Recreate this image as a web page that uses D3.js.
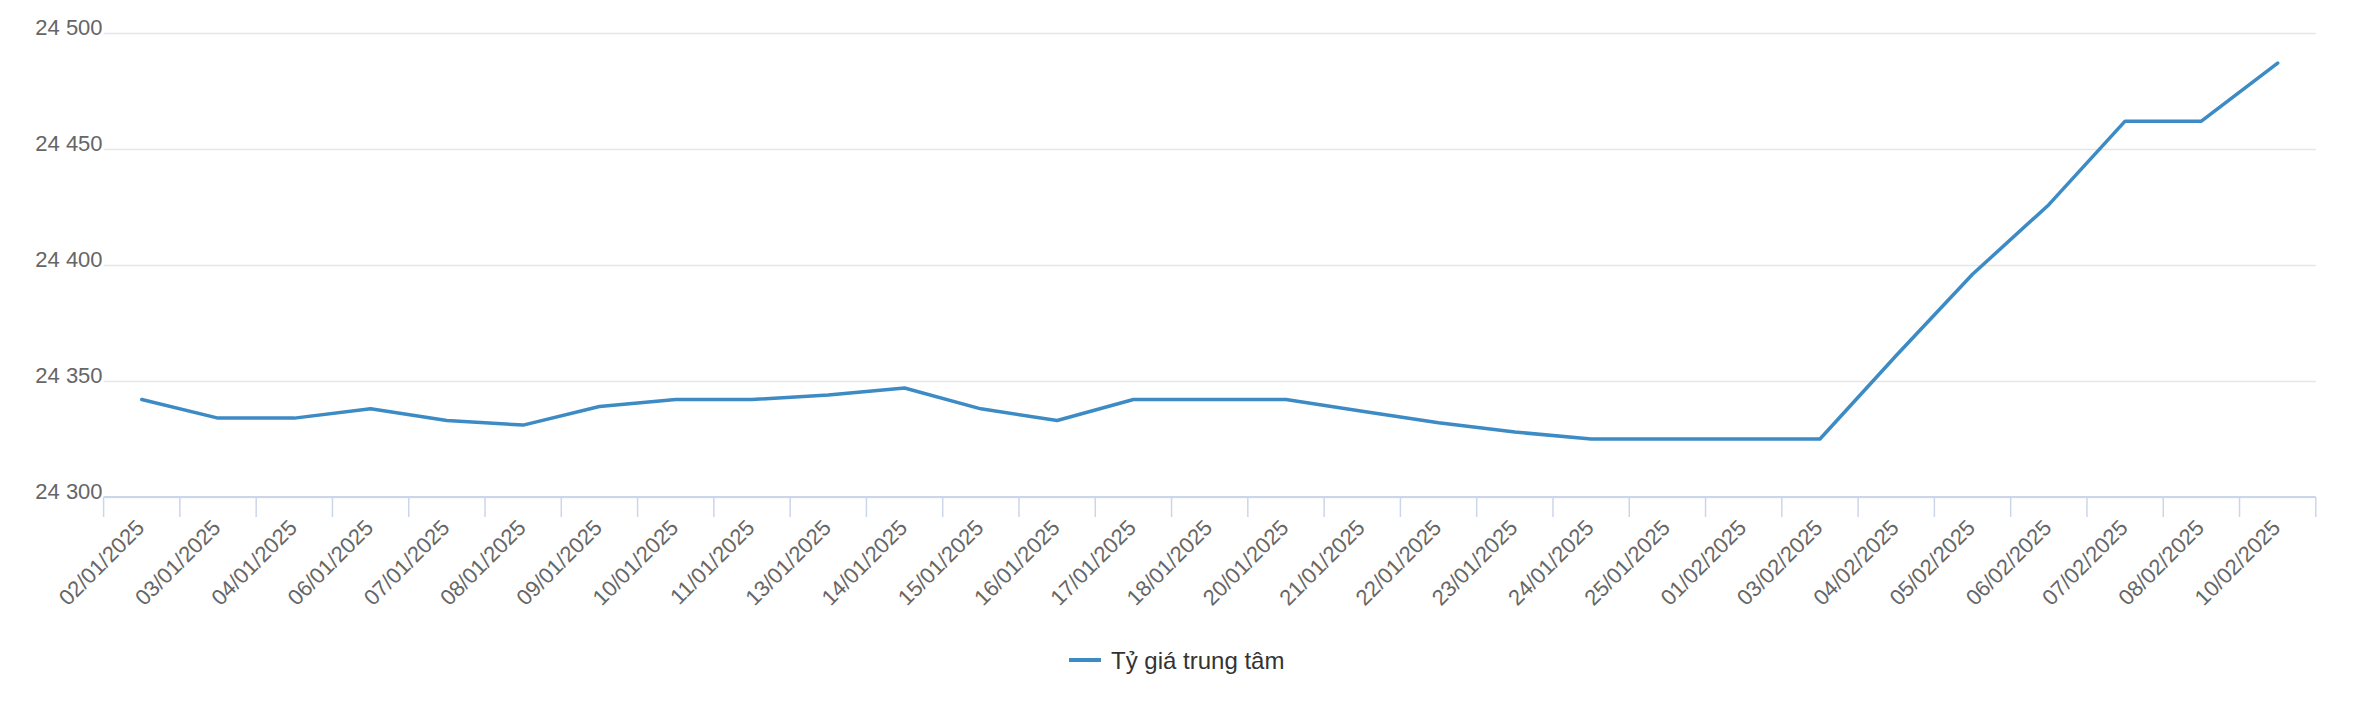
<!DOCTYPE html>
<html>
<head>
<meta charset="utf-8">
<script src="https://cdn.jsdelivr.net/npm/d3@7/dist/d3.min.js"></script>
<style>
  html, body { margin: 0; padding: 0; background: #ffffff; }
  svg { display: block; font-family: "Liberation Sans", Arial, Helvetica, sans-serif; }
</style>
</head>
<body>
<svg id="chart" width="2370" height="702"></svg>
<script>
const categories = ["02/01/2025","03/01/2025","04/01/2025","06/01/2025","07/01/2025","08/01/2025","09/01/2025","10/01/2025","11/01/2025","13/01/2025","14/01/2025","15/01/2025","16/01/2025","17/01/2025","18/01/2025","20/01/2025","21/01/2025","22/01/2025","23/01/2025","24/01/2025","25/01/2025","01/02/2025","03/02/2025","04/02/2025","05/02/2025","06/02/2025","07/02/2025","08/02/2025","10/02/2025"];
const rates = [24342,24334,24334,24338,24333,24331,24339,24342,24342,24344,24347,24338,24333,24342,24342,24342,24337,24332,24328,24325,24325,24325,24325,24361,24396,24426,24462,24462,24487];
const yTicks = [24300, 24350, 24400, 24450, 24500];
const seriesName = "Tỷ giá trung tâm";

const svg = d3.select("#chart");
const plot = { left: 103.6, right: 2315.8, top: 33, bottom: 497 };

const x = d3.scaleBand().domain(categories).range([plot.left, plot.right]).padding(0);
const y = d3.scaleLinear().domain([24300, 24500]).range([plot.bottom, plot.top]);
const lineColor = "#3d8bc5";

const fmt = d3.formatLocale({ decimal: ",", thousands: " ", grouping: [3], currency: ["", ""] }).format(",");

// Y axis with gridlines
const yAxis = svg.append("g")
  .attr("transform", `translate(${plot.left},0)`)
  .call(d3.axisLeft(y).tickValues(yTicks).tickFormat(fmt)
        .tickSize(-(plot.right - plot.left)).tickPadding(1));
yAxis.select(".domain").remove();
yAxis.selectAll(".tick line").attr("stroke", "#e6e6e6").attr("stroke-width", 1.5);
yAxis.selectAll(".tick text")
  .attr("fill", "#666666").attr("font-size", "22px")
  .attr("font-family", "Liberation Sans, Arial, sans-serif")
  .attr("dy", "0").attr("y", 1.5);

// X axis: labels at band centers
const xAxis = svg.append("g")
  .attr("transform", `translate(0,${plot.bottom})`)
  .call(d3.axisBottom(x).tickSize(0).tickPadding(0));
xAxis.select(".domain").remove();
xAxis.selectAll(".tick text")
  .attr("fill", "#666666").attr("font-size", "22px")
  .attr("font-family", "Liberation Sans, Arial, sans-serif")
  .attr("text-anchor", "end")
  .attr("dy", "0")
  .attr("y", 0)
  .attr("transform", "translate(4,32) rotate(-45)");

// boundary ticks
const edges = categories.map(c => x(c)).concat([x.range()[1]]);
svg.append("g").selectAll("line").data(edges).join("line")
  .attr("x1", d => d).attr("x2", d => d)
  .attr("y1", plot.bottom).attr("y2", plot.bottom + 20)
  .attr("stroke", "#ccd6eb").attr("stroke-width", 1.5);
// axis line
svg.append("line")
  .attr("x1", plot.left).attr("x2", plot.right)
  .attr("y1", plot.bottom).attr("y2", plot.bottom)
  .attr("stroke", "#ccd6eb").attr("stroke-width", 2);

// series line
const cx = c => x(c) + x.bandwidth() / 2;
const line = d3.line().x((d, i) => cx(categories[i])).y(d => y(d));
svg.append("path")
  .datum(rates)
  .attr("d", line)
  .attr("fill", "none")
  .attr("stroke", lineColor)
  .attr("stroke-width", 3.5)
  .attr("stroke-linejoin", "round")
  .attr("stroke-linecap", "round");

// legend
const legend = svg.append("g").attr("transform", "translate(1069,660)");
legend.append("line").attr("x1", 0).attr("x2", 32).attr("y1", 0).attr("y2", 0)
  .attr("stroke", lineColor).attr("stroke-width", 4);
legend.append("text").attr("x", 42).attr("y", 8.5)
  .attr("fill", "#333333").attr("font-size", "24px")
  .text(seriesName);
</script>
</body>
</html>
